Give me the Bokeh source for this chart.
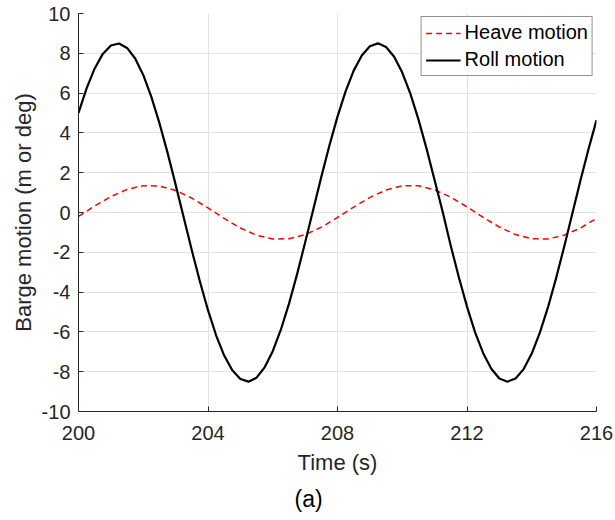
from bokeh.plotting import figure
from bokeh.models import Range1d, FixedTicker, Legend, LegendItem, Title
from bokeh.embed import file_html
from bokeh.resources import INLINE

# Time samples (s)
roll_t = [200 + 0.25 * k for k in range(65)]
roll_y = [5.00, 6.24, 7.24, 7.97, 8.39, 8.49, 8.27, 7.74, 6.91, 5.81,
          4.49, 3.01, 1.40, -0.25, -1.90, -3.47, -4.91, -6.17, -7.19, -7.93,
          -8.37, -8.50, -8.30, -7.78, -6.97, -5.89, -4.59, -3.11, -1.51, 0.14,
          1.79, 3.37, 4.82, 6.09, 7.13, 7.89, 8.35, 8.50, 8.32, 7.83,
          7.03, 5.97, 4.68, 3.21, 1.62, 0.03, -1.68, -3.27, -4.73, -6.02,
          -7.07, -7.85, -8.34, -8.50, -8.34, -7.87, -7.09, -6.04, -4.77, -3.31,
          -1.73, -0.08, 1.58, 3.17, 4.64]

heave_t = [200 + 0.5 * k for k in range(33)]
heave_y = [-0.20, 0.33, 0.80, 1.16, 1.35, 1.33, 1.11, 0.72, 0.23, -0.30,
           -0.78, -1.14, -1.33, -1.32, -1.11, -0.74, -0.25, 0.27, 0.76, 1.13,
           1.34, 1.34, 1.14, 0.77, 0.28, -0.25, -0.73, -1.11, -1.32, -1.33,
           -1.14, -0.78, -0.30]

x_ticks = [200, 204, 208, 212, 216]
y_ticks = [-10, -8, -6, -4, -2, 0, 2, 4, 6, 8, 10]
y_tick_labels = ["-10", "-8", "-6", "-4", "-2", "0", "2", "4", "6", "8", "10"]

FONT = "Liberation Sans"
AX = "#262626"

p = figure(width=615, height=520, output_backend="svg", toolbar_location=None,
           x_range=Range1d(200, 216), y_range=Range1d(-10, 10),
           min_border_left=78, min_border_right=19, min_border_top=13,
           min_border_bottom=109)
p.outline_line_color = None
p.background_fill_color = "white"
p.border_fill_color = "white"

for ax in (p.xaxis[0], p.yaxis[0]):
    ax.axis_line_color = AX
    ax.axis_line_width = 1
    ax.major_tick_line_color = AX
    ax.major_tick_in = 5
    ax.major_tick_out = 0
    ax.minor_tick_line_color = None
    ax.major_label_text_font = FONT
    ax.major_label_text_font_size = "20px"
    ax.major_label_text_color = AX
    ax.axis_label_text_font = FONT
    ax.axis_label_text_font_size = "22px"
    ax.axis_label_text_font_style = "normal"
    ax.axis_label_text_color = AX

p.xaxis[0].ticker = FixedTicker(ticks=x_ticks)
p.yaxis[0].ticker = FixedTicker(ticks=y_ticks)
p.yaxis[0].major_label_overrides = {t: s for t, s in zip(y_ticks, y_tick_labels)}
p.xaxis[0].axis_label = "Time (s)"
p.yaxis[0].axis_label = "Barge motion (m or deg)"
p.xaxis[0].major_label_standoff = 14
p.yaxis[0].major_label_standoff = 8
p.xaxis[0].axis_label_standoff = 7
p.yaxis[0].axis_label_standoff = 3

p.xgrid.ticker = FixedTicker(ticks=x_ticks)
p.ygrid.ticker = FixedTicker(ticks=y_ticks)
p.grid.grid_line_color = "#e3e3e3"
p.grid.grid_line_width = 1

r_heave = p.line(heave_t, heave_y, line_color="#ff0000", line_width=1.5,
                 line_dash="6 4")
r_roll = p.line(roll_t, roll_y, line_color="black", line_width=2.2,
                line_join="round")

legend = Legend(items=[LegendItem(label="Heave motion", renderers=[r_heave]),
                       LegendItem(label="Roll motion", renderers=[r_roll])],
                location="top_right")
legend.margin = 3
legend.padding = 4
legend.spacing = 4
legend.glyph_width = 35
legend.label_standoff = 4
legend.label_text_font = FONT
legend.label_text_font_size = "20px"
legend.label_text_color = "black"
legend.border_line_color = AX
legend.border_line_width = 1
legend.background_fill_color = "white"
legend.background_fill_alpha = 1
p.add_layout(legend)

cap = Title(text="(a)", align="left", offset=216, standoff=12,
            text_font=FONT, text_font_size="23px", text_font_style="normal",
            text_color="black")
p.add_layout(cap, "below")

open("out.html", "w").write(file_html(p, INLINE))
